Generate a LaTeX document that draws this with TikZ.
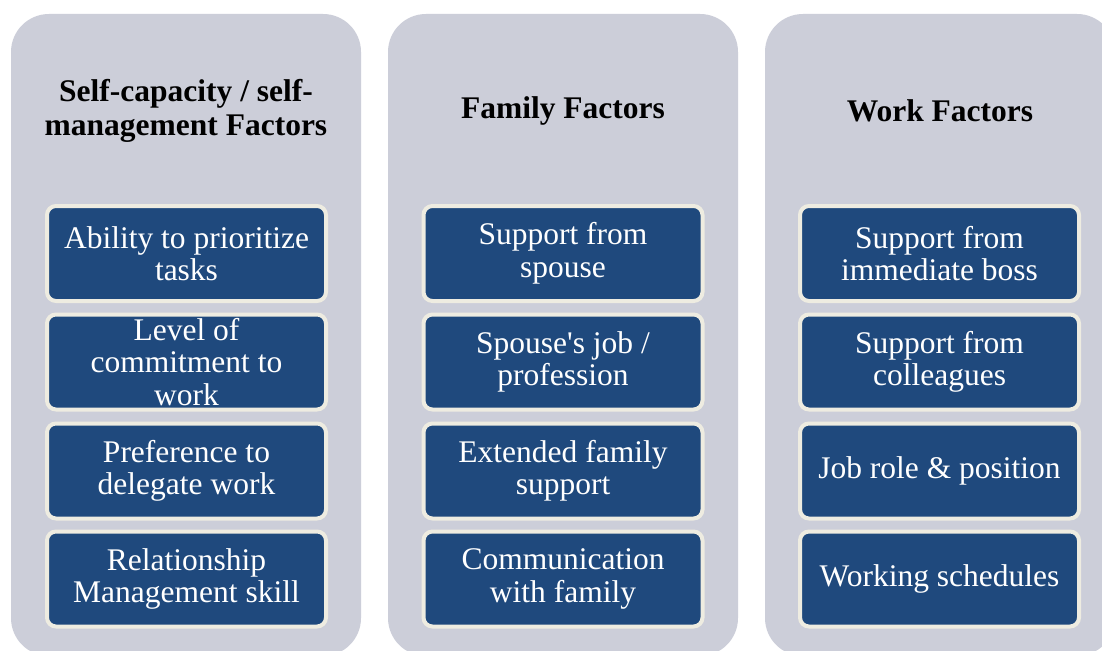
\documentclass[tikz,border=0pt]{standalone}
\usepackage{fontspec}
\setmainfont{Liberation Serif}
\definecolor{panelgray}{HTML}{CCCED9}
\definecolor{itemblue}{HTML}{1F497D}
\definecolor{itemrim}{HTML}{EEECE1}
\tikzset{
  panel/.style={fill=panelgray, rounded corners=38pt, minimum width=350pt,
    minimum height=642pt, inner sep=0pt},
  heading/.style={font=\fontsize{31.5}{34}\selectfont\bfseries, align=center,
    inner sep=0pt, text=black},
  item/.style={fill=itemblue, draw=itemrim, line width=4pt, rounded corners=9pt,
    minimum width=279pt, minimum height=95pt, inner sep=0pt, text=white,
    align=center, font=\fontsize{31.5}{32.5}\selectfont},
}
\begin{document}
\begin{tikzpicture}[x=1pt,y=-1pt]
  \useasboundingbox (0,0) rectangle (1102,650);
  \clip (0,0) rectangle (1102,650);
  \fill[white] (0,0) rectangle (1102,650);

  % three column panels
  \node[panel] (p1) at (186,335) {};
  \node[panel] (p2) at (563,335) {};
  \node[panel] (p3) at (940,335) {};

  % column headings
  \node[heading] (h1) at (186,111) {Self-capacity / self-\\management Factors};
  \node[heading] (h2) at (563,111) {Family Factors};
  \node[heading] (h3) at (940,111) {Work Factors};

  % self-capacity column
  \node[item] (a1) at (186.5,253.5) {Ability to prioritize\\tasks};
  \node[item] (a2) at (186.5,362) {Level of\\commitment to\\work};
  \node[item] (a3) at (186.5,471) {Preference to\\delegate work};
  \node[item] (a4) at (186.5,579) {Relationship\\Management skill};

  % family column
  \node[item] (b1) at (563,253.5) {Support from\\spouse};
  \node[item] (b2) at (563,362) {Spouse\textquotesingle s job /\\profession};
  \node[item] (b3) at (563,471) {Extended family\\support};
  \node[item] (b4) at (563,579) {Communication\\with family};

  % work column
  \node[item] (c1) at (939.5,253.5) {Support from\\immediate boss};
  \node[item] (c2) at (939.5,362) {Support from\\colleagues};
  \node[item] (c3) at (939.5,471) {Job role \& position};
  \node[item] (c4) at (939.5,579) {Working schedules};
\end{tikzpicture}
\end{document}
